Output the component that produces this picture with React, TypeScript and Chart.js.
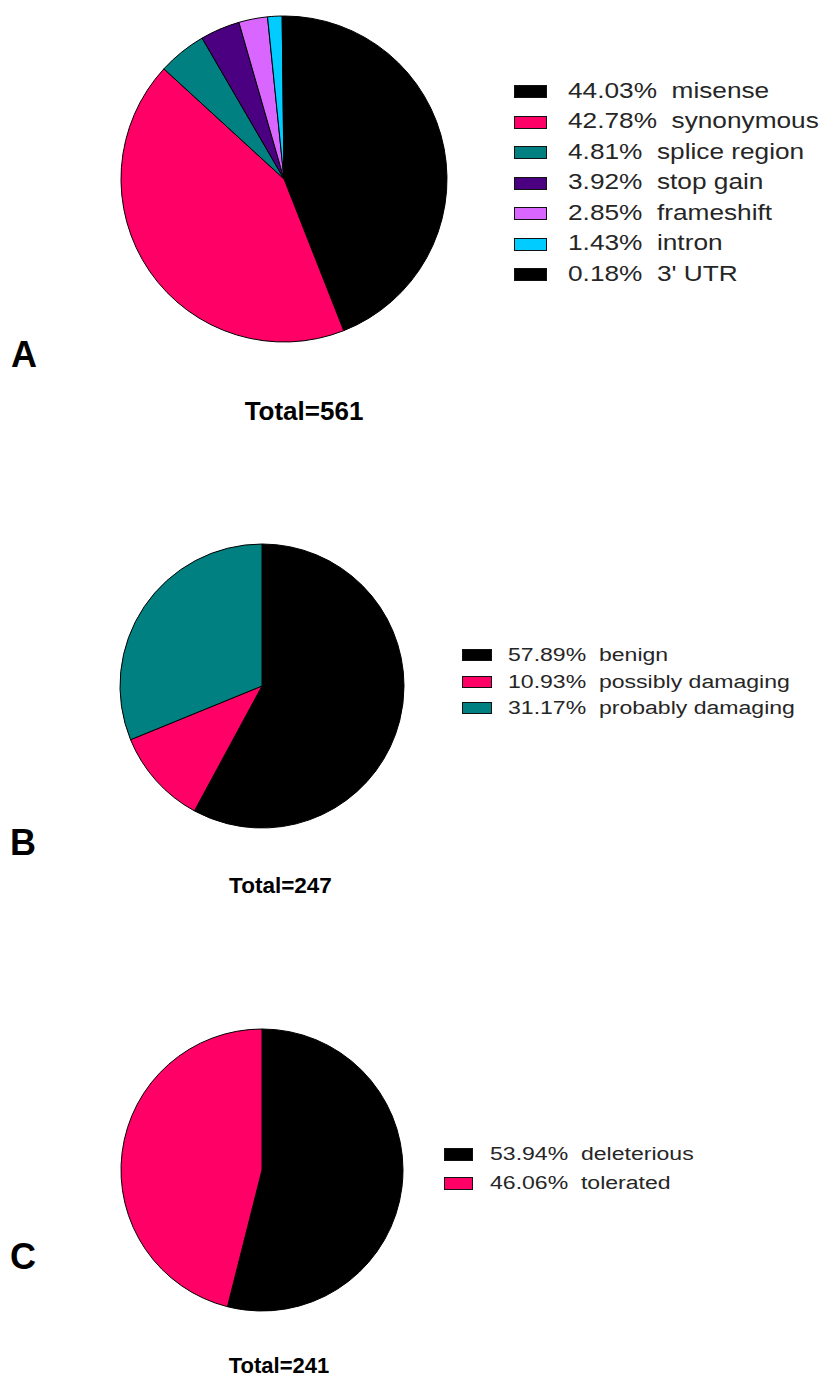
import React, { useEffect, useRef } from "react";
import { Chart, registerables } from "chart.js";

Chart.register(...registerables);

// Panel A: variant consequence classes
const consequenceLabels = ["misense", "synonymous", "splice region", "stop gain", "frameshift", "intron", "3' UTR"];
const consequencePct = [44.03, 42.78, 4.81, 3.92, 2.85, 1.43, 0.18];
const consequenceColors = ["#000000", "#ff0066", "#008080", "#4b0082", "#d966ff", "#00ccff", "#000000"];
const consequenceTotal = 561;

// Panel B: PolyPhen predictions
const polyphenLabels = ["benign", "possibly damaging", "probably damaging"];
const polyphenPct = [57.89, 10.93, 31.17];
const polyphenColors = ["#000000", "#ff0066", "#008080"];
const polyphenTotal = 247;

// Panel C: SIFT predictions
const siftLabels = ["deleterious", "tolerated"];
const siftPct = [53.94, 46.06];
const siftColors = ["#000000", "#ff0066"];
const siftTotal = 241;

const FONT = "'Liberation Sans', Arial, Helvetica, sans-serif";
// Liberation Sans baseline offset inside a line-height:1 box
const BASE = 0.8465;

type PieProps = {
  labels: string[];
  values: number[];
  colors: string[];
  left: number;
  top: number;
  size: number;
  radius: number;
};

function PieCanvas({ labels, values, colors, left, top, size, radius }: PieProps) {
  const ref = useRef<HTMLCanvasElement>(null);
  useEffect(() => {
    const chart = new Chart(ref.current!, {
      type: "pie",
      data: {
        labels,
        datasets: [
          {
            data: values,
            backgroundColor: colors,
            borderColor: "#000000",
            borderWidth: 1,
            radius,
          } as any,
        ],
      },
      options: {
        responsive: false,
        animation: false,
        events: [],
        layout: { padding: 0 },
        plugins: { legend: { display: false }, tooltip: { enabled: false } },
      },
    });
    return () => chart.destroy();
  }, []);
  return (
    <canvas
      ref={ref}
      width={size}
      height={size}
      style={{ position: "absolute", left, top, width: size, height: size }}
    />
  );
}

type LegendProps = {
  labels: string[];
  values: number[];
  colors: string[];
  swatchLeft: number;
  swatchW: number;
  swatchH: number;
  textLeft: number;
  firstY: number;
  step: number;
  fontSize: number;
  stretch: number;
};

function Legend(p: LegendProps) {
  return (
    <>
      {p.labels.map((lab, i) => {
        const cy = p.firstY + i * p.step;
        return (
          <React.Fragment key={lab + i}>
            <div
              style={{
                position: "absolute",
                left: p.swatchLeft,
                top: cy - p.swatchH / 2,
                width: p.swatchW,
                height: p.swatchH,
                background: p.colors[i],
                border: "1.5px solid #111",
                boxSizing: "border-box",
              }}
            />
            <div
              style={{
                position: "absolute",
                left: p.textLeft,
                top: cy - p.fontSize * 0.49,
                fontFamily: FONT,
                fontSize: p.fontSize,
                lineHeight: 1,
                color: "#262626",
                whiteSpace: "pre",
                transform: `scaleX(${p.stretch})`,
                transformOrigin: "left center",
              }}
            >
              {`${p.values[i].toFixed(2)}%  ${lab}`}
            </div>
          </React.Fragment>
        );
      })}
    </>
  );
}

function Text({ text, x, baseline, size, align = "left" }: { text: string; x: number; baseline: number; size: number; align?: "left" | "center" }) {
  const w = 300;
  return (
    <div
      style={{
        position: "absolute",
        left: align === "center" ? x - w / 2 : x,
        width: align === "center" ? w : undefined,
        top: baseline - BASE * size,
        fontFamily: FONT,
        fontWeight: 700,
        fontSize: size,
        lineHeight: 1,
        color: "#000",
        textAlign: align,
        whiteSpace: "pre",
      }}
    >
      {text}
    </div>
  );
}

export default function App() {
  return (
    <div
      style={{
        position: "absolute",
        left: 0,
        top: 0,
        width: 825,
        height: 1378,
        background: "#ffffff",
        overflow: "hidden",
      }}
    >
      {/* A */}
      <PieCanvas labels={consequenceLabels} values={consequencePct} colors={consequenceColors} left={114} top={9} size={340} radius={163} />
      <Legend
        labels={consequenceLabels}
        values={consequencePct}
        colors={consequenceColors}
        swatchLeft={514}
        swatchW={33}
        swatchH={13}
        textLeft={568}
        firstY={91.5}
        step={30.5}
        fontSize={21.5}
        stretch={1.22}
      />
      <Text text="A" x={11} baseline={367.5} size={36} />
      <Text text={`Total=${consequenceTotal}`} x={304} baseline={420.5} size={26} align="center" />

      {/* B */}
      <PieCanvas labels={polyphenLabels} values={polyphenPct} colors={polyphenColors} left={112} top={536} size={300} radius={142} />
      <Legend
        labels={polyphenLabels}
        values={polyphenPct}
        colors={polyphenColors}
        swatchLeft={462}
        swatchW={30}
        swatchH={12}
        textLeft={508}
        firstY={655}
        step={26.5}
        fontSize={18}
        stretch={1.28}
      />
      <Text text="B" x={10} baseline={855.5} size={36} />
      <Text text={`Total=${polyphenTotal}`} x={280.5} baseline={894} size={22.5} align="center" />

      {/* C */}
      <PieCanvas labels={siftLabels} values={siftPct} colors={siftColors} left={112} top={1020} size={300} radius={141} />
      <Legend
        labels={siftLabels}
        values={siftPct}
        colors={siftColors}
        swatchLeft={444}
        swatchW={29}
        swatchH={13}
        textLeft={490}
        firstY={1154}
        step={29}
        fontSize={18}
        stretch={1.28}
      />
      <Text text="C" x={10} baseline={1269} size={36} />
      <Text text={`Total=${siftTotal}`} x={279} baseline={1374} size={22} align="center" />
    </div>
  );
}
